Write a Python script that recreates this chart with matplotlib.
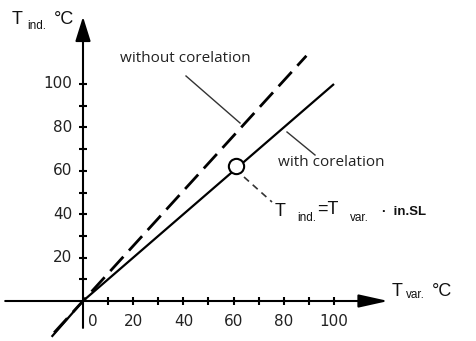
import numpy as np
import matplotlib
matplotlib.use("Agg")
import matplotlib.pyplot as plt

# pixel layout of the reference (origin and scale)
X0, Y0 = 83, 301
SX, SY = 2.51, 2.17
W, H = 477, 341

# data
tick_vals = [10, 20, 30, 40, 50, 60, 70, 80, 90, 100]
x_labels = [20, 40, 60, 80, 100]
y_labels = [20, 40, 60, 80, 100]

with_x = [-12.5, 0, 100]
with_y = [-16.5, 0, 100]
without_x = [-11.5, 89]
without_y = [-14.6, 113]
point_x, point_y = 61, 62

x_axis_start, x_axis_end = -31, 121.6
y_axis_start, y_axis_end = -12.4, 131


def px(x, y):
    # pixel position in the reference -> data coordinates
    return (x - X0) / SX, (Y0 - y) / SY


fig = plt.figure(figsize=(W / 100, H / 100), dpi=100)
ax = fig.add_axes([0, 0, 1, 1])
ax.set_xlim(-X0 / SX, (W - X0) / SX)
ax.set_ylim((Y0 - H) / SY, Y0 / SY)
ax.axis("off")

# axes with arrows
ax.annotate("", xy=(x_axis_end, 0), xytext=(x_axis_start, 0),
            arrowprops=dict(arrowstyle="-|>,head_length=18,head_width=4",
                            mutation_scale=1, lw=1.5, color="black",
                            shrinkA=0, shrinkB=0))
ax.annotate("", xy=(0, y_axis_end), xytext=(0, y_axis_start),
            arrowprops=dict(arrowstyle="-|>,head_length=15,head_width=4.7",
                            mutation_scale=1, lw=1.5, color="black",
                            shrinkA=0, shrinkB=0))

# tick marks
ax.plot(tick_vals, np.zeros(len(tick_vals)), ls="none", marker="|",
        ms=6, mew=1.5, color="black")
ax.plot(np.zeros(len(tick_vals)), tick_vals, ls="none", marker="_",
        ms=6, mew=1.5, color="black")

lab_font = dict(family="DejaVu Sans", fontsize=11, color="#222222")
for v in x_labels:
    ax.text(v, px(0, 321)[1], str(v), ha="center", va="center", **lab_font)
ax.text(px(93, 0)[0], px(0, 321)[1], "0", ha="center", va="center", **lab_font)
for v in y_labels:
    ax.text(px(72, 0)[0], v, str(v), ha="right", va="center", **lab_font)

# lines
ax.plot(with_x, with_y, color="black", lw=1.6, solid_capstyle="butt")
ax.plot(without_x, without_y, color="black", lw=2, dashes=(7, 3))
ax.plot(point_x, point_y, marker="o", ms=11, mfc="white", mec="black",
        mew=1.5)

# leader lines
ax.plot(*zip(px(186, 76), px(240, 123)), color="#333333", lw=1)
ax.plot(*zip(px(287, 132), px(315, 155)), color="#333333", lw=1)
ax.plot(*zip(px(244, 177), px(272, 202)), color="#333333", lw=1.2,
        dashes=(4, 3))

txt = dict(family="Open Sans", fontsize=11, color="#222222")
ax.text(*px(120, 58), "without corelation", ha="left", va="center", **txt)
ax.text(*px(278, 162), "with corelation", ha="left", va="center", **txt)

big = dict(family="Liberation Sans", fontsize=13, color="#111111")
small = dict(family="Liberation Sans", fontsize=8.5, color="#111111")
# formula
ax.text(*px(275, 211), "T", ha="left", va="center", **big)
ax.text(*px(297, 218), "ind.", ha="left", va="center", **small)
ax.text(*px(317, 210), "=T", ha="left", va="center", **big)
ax.text(*px(350, 218), "var.", ha="left", va="center", **small)
ax.text(*px(382, 212), "\u00b7  in.SL", ha="left", va="center",
        family="Liberation Sans", fontsize=9.5, fontweight="bold",
        color="#111111")

# axis titles
ax.text(*px(12, 20), "T", ha="left", va="center", **big)
ax.text(*px(27, 26), "ind.", ha="left", va="center", **small)
ax.text(*px(54, 20), "\u00b0C", ha="left", va="center", **big)

ax.text(*px(392, 291), "T", ha="left", va="center", **big)
ax.text(*px(406, 295), "var.", ha="left", va="center", **small)
ax.text(*px(432, 291), "\u00b0C", ha="left", va="center", **big)

fig.savefig("out.png", dpi=100)
